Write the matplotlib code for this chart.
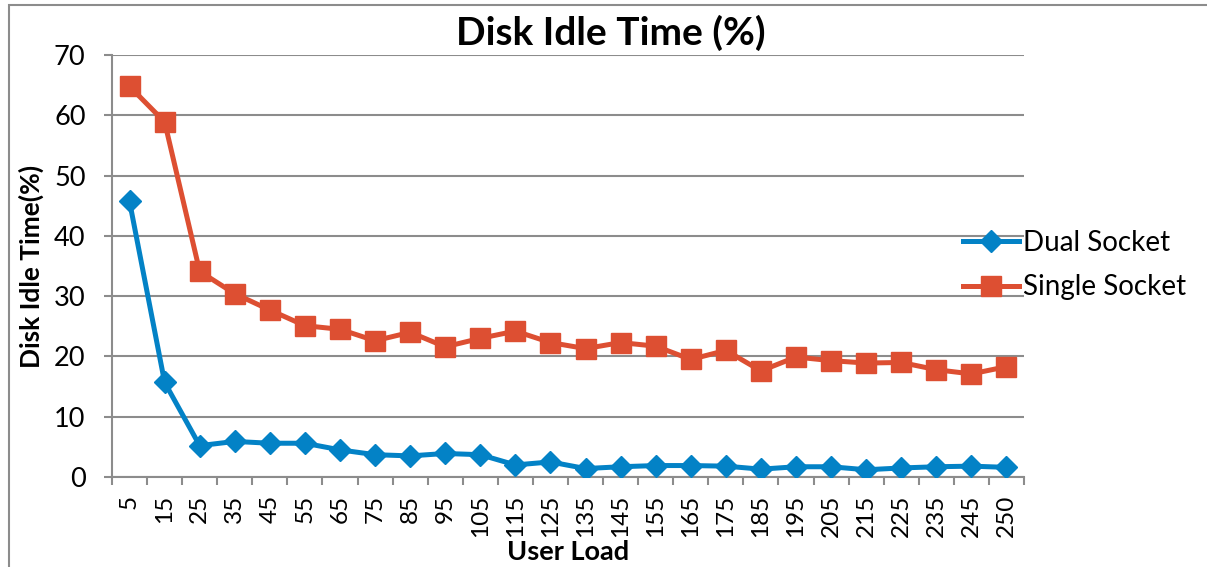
import matplotlib
matplotlib.use("Agg")
import matplotlib.pyplot as plt
from matplotlib.patches import Rectangle
from matplotlib.ticker import FixedLocator

plt.rcParams['font.family'] = ['Lato', 'DejaVu Sans']

# 数据
user_load = ['5', '15', '25', '35', '45', '55', '65', '75', '85', '95', '105', '115', '125',
             '135', '145', '155', '165', '175', '185', '195', '205', '215', '225', '235', '245', '250']
dual_socket = [45.7, 15.7, 5.2, 5.9, 5.6, 5.6, 4.5, 3.7, 3.5, 3.9, 3.7, 2.0, 2.5,
               1.4, 1.7, 1.9, 1.9, 1.8, 1.3, 1.7, 1.7, 1.2, 1.5, 1.7, 1.8, 1.6]
single_socket = [64.8, 58.9, 34.1, 30.4, 27.7, 25.1, 24.5, 22.6, 24.0, 21.6, 23.0, 24.2, 22.3,
                 21.3, 22.3, 21.7, 19.5, 21.0, 17.6, 19.9, 19.3, 18.9, 19.0, 17.8, 17.1, 18.3]

blue = '#0382C6'
orange = '#DD4F32'
grid_gray = '#8C8C8C'

fig = plt.figure(figsize=(12.07, 5.67), dpi=100)
ax = fig.add_axes([112 / 1207, 1 - 477 / 567, 912 / 1207, 422 / 567])

x = list(range(len(user_load)))
ax.plot(x, dual_socket, color=blue, linewidth=3.6, marker='D', markersize=11.5,
        label='Dual Socket', zorder=3)
ax.plot(x, single_socket, color=orange, linewidth=3.6, marker='s', markersize=14,
        label='Single Socket', zorder=3)

ax.set_xlim(-0.5, len(user_load) - 0.5)
ax.set_ylim(0, 70)
ax.set_yticks(range(0, 71, 10))
ax.yaxis.grid(True, color=grid_gray, linewidth=1.5)
ax.set_axisbelow(True)

# x轴：标签在类别中心，刻度线在类别之间
ax.set_xticks(x)
ax.set_xticklabels(user_load, rotation=90)
ax.xaxis.set_minor_locator(FixedLocator([i - 0.5 for i in range(len(user_load) + 1)]))
ax.tick_params(axis='x', which='major', length=0, pad=13, labelsize=17.5)
ax.tick_params(axis='x', which='minor', length=6, width=1.5, color=grid_gray)
ax.tick_params(axis='y', length=6, width=1.5, color=grid_gray, pad=13, labelsize=19.5)

for side in ['top', 'right']:
    ax.spines[side].set_visible(False)
for side in ['left', 'bottom']:
    ax.spines[side].set_color(grid_gray)
    ax.spines[side].set_linewidth(1.5)

fig.text(611 / 1207, 1 - 33 / 567, 'Disk Idle Time (%)', fontsize=28, fontweight='bold',
         ha='center', va='center')
ax.set_ylabel('Disk Idle Time(%)', fontsize=19, fontweight='bold', va='center')
ax.yaxis.set_label_coords((31 - 112) / 912, 0.5)
ax.set_xlabel('User Load', fontsize=19.5, fontweight='bold', va='center')
ax.xaxis.set_label_coords(0.5, (477 - 552) / 422)

ax.legend(loc='center left', bbox_to_anchor=(963 / 1207, 1 - 265 / 567),
          bbox_transform=fig.transFigure, frameon=False, fontsize=20,
          handlelength=2.0, handletextpad=0.15, borderpad=0, borderaxespad=0,
          labelspacing=0.68)

# 外框
fig.patches.append(Rectangle((9 / 1207, -0.1), 1.2, 1.1 - 5 / 567,
                             transform=fig.transFigure, fill=False,
                             edgecolor='#8C8C8C', linewidth=1.5))

fig.savefig('out.png', dpi=100)
